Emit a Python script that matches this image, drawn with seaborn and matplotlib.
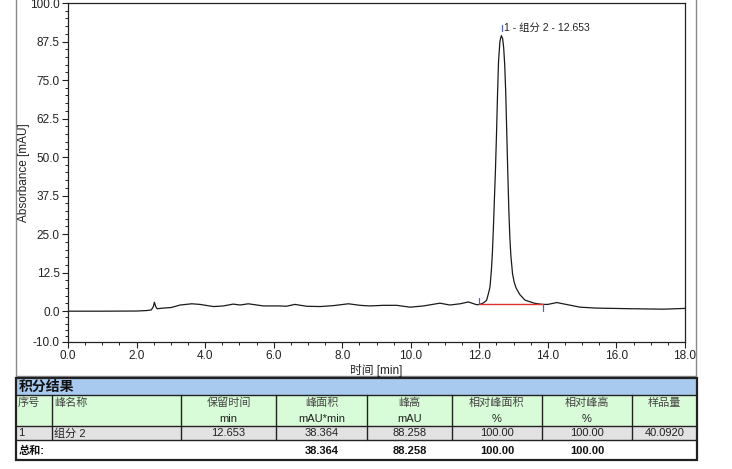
import numpy as np
import pandas as pd
import matplotlib
matplotlib.use("Agg")
import matplotlib.pyplot as plt
import seaborn as sns
from matplotlib.patches import Rectangle
from matplotlib.ticker import FixedLocator, FormatStrFormatter

# ---------------- data ----------------
time_min = [0.00, 1.00, 2.00, 2.29, 2.43, 2.49, 2.52, 2.56, 2.60, 2.78, 3.02, 3.27,
            3.61, 3.85, 4.24, 4.53, 4.82, 5.02, 5.26, 5.70, 6.18, 6.37, 6.62, 6.96,
            7.35, 7.74, 8.18, 8.52, 8.81, 9.20, 9.59, 9.98, 10.37, 10.85, 11.14,
            11.44, 11.68, 11.92, 12.02, 12.12, 12.21, 12.26, 12.31, 12.35, 12.38,
            12.41, 12.44, 12.47, 12.50, 12.53, 12.56, 12.60, 12.64, 12.68, 12.71,
            12.74, 12.77, 12.80, 12.83, 12.86, 12.89, 12.92, 12.97, 13.02, 13.07,
            13.18, 13.33, 13.60, 13.77, 13.86,
            14.00, 14.26, 14.53, 14.94, 15.42, 16.40, 17.37, 18.00]
absorbance = [0.0, 0.0, 0.05, 0.2, 0.4, 1.5, 2.9, 1.5, 0.8, 1.0, 1.2, 2.0,
              2.4, 2.2, 1.5, 1.7, 2.3, 2.0, 2.4, 1.7, 1.7, 1.6, 2.2, 1.6,
              1.5, 1.8, 2.4, 1.9, 1.7, 1.9, 1.9, 1.3, 1.7, 2.6, 2.0,
              2.4, 3.0, 2.1, 2.2, 2.7, 3.5, 5.5, 7.8, 13.0, 18.7,
              27.0, 36.5, 45.8, 57.0, 70.0, 81.0, 87.5, 89.4, 88.5, 85.5,
              80.0, 71.0, 58.0, 45.0, 33.0, 24.0, 18.0, 12.0, 9.3, 7.6,
              5.4, 3.6, 2.6, 2.3, 2.2,
              2.2, 2.8, 2.2, 1.3, 1.0, 0.8, 0.65, 0.9]

peak_label = "1 - 组分 2 - 12.653"
retention_time = 12.653
peak_start = 12.0
peak_end = 13.86
baseline_level = 2.2
label_level = 92.0

x_ticks = [0, 2, 4, 6, 8, 10, 12, 14, 16, 18]
y_ticks = [-10, 0, 12.5, 25, 37.5, 50, 62.5, 75, 87.5, 100]
y_minor = [-8, -6, -4, -2] + [2.5 * k for k in range(1, 40) if (2.5 * k) % 12.5]

table_title = "积分结果"
col_headers = ["序号", "峰名称", "保留时间", "峰面积", "峰高", "相对峰面积", "相对峰高", "样品量"]
col_units = ["", "", "min", "mAU*min", "mAU", "%", "%", ""]
row_values = ["1", "组分 2", "12.653", "38.364", "88.258", "100.00", "100.00", "40.0920"]
total_label = "总和:"
total_values = ["", "", "", "38.364", "88.258", "100.00", "100.00", ""]

# ---------------- style ----------------
sns.set_style("white")
plt.rcParams["font.family"] = ["Liberation Sans", "Noto Sans CJK SC"]
plt.rcParams["axes.unicode_minus"] = False

W, H = 732, 469
fig = plt.figure(figsize=(W / 100, H / 100), dpi=100)

# background overlay axes in pixel coordinates (frame + table)
tax = fig.add_axes([0, 0, 1, 1])
tax.set_xlim(0, W)
tax.set_ylim(H, 0)
tax.axis("off")

# outer chart frame
tax.add_patch(Rectangle((16, -5), 696 - 16, 376 + 5, fill=False, ec="#8a8a8a", lw=1.0))

# ---------------- chromatogram ----------------
ax = fig.add_axes([68 / W, 1 - 342 / H, (685 - 68) / W, (342 - 3) / H])
df = pd.DataFrame({"t": time_min, "a": absorbance})
sns.lineplot(data=df, x="t", y="a", ax=ax, color="#1a1a1a", lw=0.9, sort=False)
sns.lineplot(x=[peak_start, peak_end], y=[baseline_level, baseline_level], ax=ax,
             color="#e03030", lw=1.0)
ax.plot([peak_start, peak_start], [baseline_level, baseline_level + 2.0], color="#5060c8", lw=0.9)
ax.plot([peak_end, peak_end], [baseline_level - 2.0, baseline_level], color="#5060c8", lw=0.9)
ax.plot([retention_time, retention_time], [label_level - 1.0, label_level + 1.0], color="#5060c8", lw=0.9)
ax.text(retention_time + 0.07, label_level, peak_label, fontsize=7.5, va="center", ha="left",
        color="#222222")

ax.set_xlim(0, 18)
ax.set_ylim(-10, 100)
ax.xaxis.set_major_locator(FixedLocator(x_ticks))
ax.xaxis.set_minor_locator(FixedLocator([0.5 * k for k in range(37) if k % 4]))
ax.yaxis.set_major_locator(FixedLocator(y_ticks))
ax.yaxis.set_minor_locator(FixedLocator(y_minor))
ax.xaxis.set_major_formatter(FormatStrFormatter("%.1f"))
ax.yaxis.set_major_formatter(FormatStrFormatter("%.1f"))
ax.tick_params(axis="both", which="major", direction="out", length=4, width=0.8,
               labelsize=8.5, colors="#222222", bottom=True, left=True, pad=2)
ax.tick_params(axis="both", which="minor", direction="out", length=2.5, width=0.7,
               bottom=True, left=True, colors="#222222")
for s in ax.spines.values():
    s.set_color("#222222")
    s.set_linewidth(0.9)
ax.set_xlabel("时间 [min]", fontsize=8.5, labelpad=1, color="#222222")
ax.set_ylabel("Absorbance [mAU]", fontsize=8.5, labelpad=0, color="#222222")

# ---------------- table ----------------
col_edges = [16, 52, 181, 276, 367, 452, 542, 632, 697]
row_edges = [378, 395, 426, 440, 460]
left_align = [True, True, False, False, False, False, False, False]

tax.add_patch(Rectangle((16, 378), 697 - 16, 395 - 378, fc="#a8caee", ec="none"))
tax.add_patch(Rectangle((16, 395), 697 - 16, 426 - 395, fc="#d8fcd8", ec="none"))
tax.add_patch(Rectangle((16, 426), 697 - 16, 440 - 426, fc="#e2e2e2", ec="none"))
tax.text(19, 386.5, table_title, fontsize=10, fontweight="bold", va="center", ha="left", color="#111111")

lc = "#222222"
for y in row_edges[1:-1]:
    tax.plot([16, 697], [y, y], color=lc, lw=1.0)
for i, x in enumerate(col_edges[1:-1], start=1):
    tax.plot([x, x], [395, 440], color=lc, lw=1.0)
tax.add_patch(Rectangle((16, 378), 697 - 16, 460 - 378, fill=False, ec=lc, lw=1.6))

for i in range(len(col_headers)):
    x0, x1 = col_edges[i], col_edges[i + 1]
    if left_align[i]:
        xp, ha = x0 + 2, "left"
    else:
        xp, ha = (x0 + x1) / 2, "center"
    tax.text(xp, 403, col_headers[i], fontsize=8, va="center", ha=ha, color="#444444")
    if col_units[i]:
        tax.text(xp, 418.5, col_units[i], fontsize=8, va="center", ha=ha, color="#222222")
    tax.text(xp, 433.5, row_values[i], fontsize=8, va="center", ha=ha, color="#222222")
    if total_values[i]:
        tax.text(xp, 450.5, total_values[i], fontsize=8, fontweight="bold", va="center", ha=ha,
                 color="#111111")
tax.text(19, 450.5, total_label, fontsize=8, fontweight="bold", va="center", ha="left", color="#111111")

fig.savefig("out.png", dpi=100)
